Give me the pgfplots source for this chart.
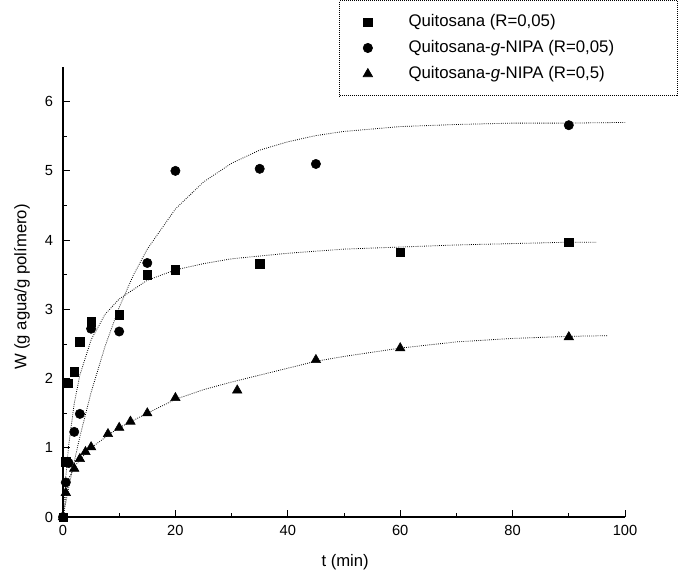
\documentclass[border=0pt]{standalone}
\usepackage{pgfplots}
\pgfplotsset{compat=1.18}
\usepackage{fontspec}
\setmainfont{Liberation Sans}
\begin{document}
\begin{tikzpicture}
\path (0,0) rectangle (508.5pt,436.5pt);
\begin{axis}[
  at={(47.25pt,48.75pt)}, anchor=south west,
  scale only axis, width=421.5pt, height=337.5pt,
  xmin=0, xmax=100, ymin=0, ymax=6.5,
  axis lines*=left,
  axis line style={line width=0.9pt},
  xtick={0,20,40,60,80,100}, ytick={0,1,2,3,4,5,6},
  minor x tick num=1, minor y tick num=1,
  tick align=inside,
  major tick length=5pt, minor tick length=3pt,
  tick style={black, line width=0.6pt},
  /pgf/number format/assume math mode=true,
  ticklabel style={font=\fontsize{11}{13}\selectfont},
  xticklabel style={yshift=-3pt},
  yticklabel style={xshift=-4pt},
  xlabel={t (min)}, ylabel={W (g agua/g polímero)},
  label style={font=\fontsize{12.5}{14}\selectfont},
  xlabel style={at={(axis description cs:0.502,-0.1)}, anchor=center},
  ylabel style={at={(axis description cs:-0.073,0.511)}, anchor=center, rotate=0},
  legend style={
    at={(rel axis cs:1.094,1.149)}, anchor=north east,
    draw=black, densely dotted, line width=0.5pt,
    font=\fontsize{12.6}{14}\selectfont,
    inner xsep=17.5pt, inner ysep=9pt,
    nodes={inner sep=1pt, text height=9.5pt, text depth=3pt, solid},
    row sep=5pt, column sep=26pt,
  },
  legend cell align=left,
]
% fitted curves
\addplot[black, densely dotted, line width=0.6pt, forget plot] coordinates {
 (0,0) (1,0.42) (2,0.80) (3,1.16) (5,1.80) (7.5,2.47) (10,3.03) (12.5,3.49)
 (15,3.87) (20,4.45) (25,4.84) (30,5.11) (35,5.30) (40,5.42) (45,5.51)
 (50,5.57) (60,5.64) (70,5.67) (80,5.69) (90,5.69) (100,5.70)};
\addplot[black, densely dotted, line width=0.6pt, forget plot] coordinates {
 (0,0) (0.5,0.59) (1,1.03) (2,1.64) (3,2.05) (5,2.56) (7.5,2.93) (10,3.15)
 (15,3.42) (20,3.57) (25,3.66) (30,3.73) (40,3.81) (50,3.87) (60,3.90)
 (70,3.93) (80,3.95) (90,3.97) (95,3.97)};
\addplot[black, densely dotted, line width=0.6pt, forget plot] coordinates {
 (0,0) (1,0.55) (2,0.72) (3,0.83) (5,1.0) (8,1.18) (10,1.29) (15,1.5)
 (20,1.7) (25,1.84) (30,1.95) (35,2.05) (40,2.15) (45,2.25) (50,2.32)
 (60,2.44) (70,2.53) (80,2.58) (90,2.61) (97,2.62)};
% data
\addplot[only marks, mark=square*, mark size=3.1pt, black] coordinates {
 (0,0) (0.5,0.8) (1,1.93) (2,2.1) (3,2.53) (5,2.82) (10,2.92) (15,3.5)
 (20,3.57) (35,3.66) (60,3.82) (90,3.97)};
\addlegendentry{Quitosana (R=0,05)}
\addplot[only marks, mark=*, mark size=3.5pt, black] coordinates {
 (0,0) (0.5,0.5) (1,0.78) (2,1.23) (3,1.49) (5,2.72) (10,2.68) (15,3.67)
 (20,5.0) (35,5.03) (45,5.1) (90,5.66)};
\addlegendentry{Quitosana-\textit{g}-NIPA (R=0,05)\rule{29pt}{0pt}}
\addplot[only marks, mark=triangle*, mark size=4.1pt, black] coordinates {
 (0,0) (0.5,0.35) (2,0.7) (3,0.84) (4,0.94) (5,1.01) (8,1.2) (10,1.29)
 (12,1.38) (15,1.5) (20,1.72) (31,1.83) (45,2.27) (60,2.44) (90,2.6)};
\addlegendentry{Quitosana-\textit{g}-NIPA (R=0,5)}
\end{axis}
\end{tikzpicture}
\end{document}
